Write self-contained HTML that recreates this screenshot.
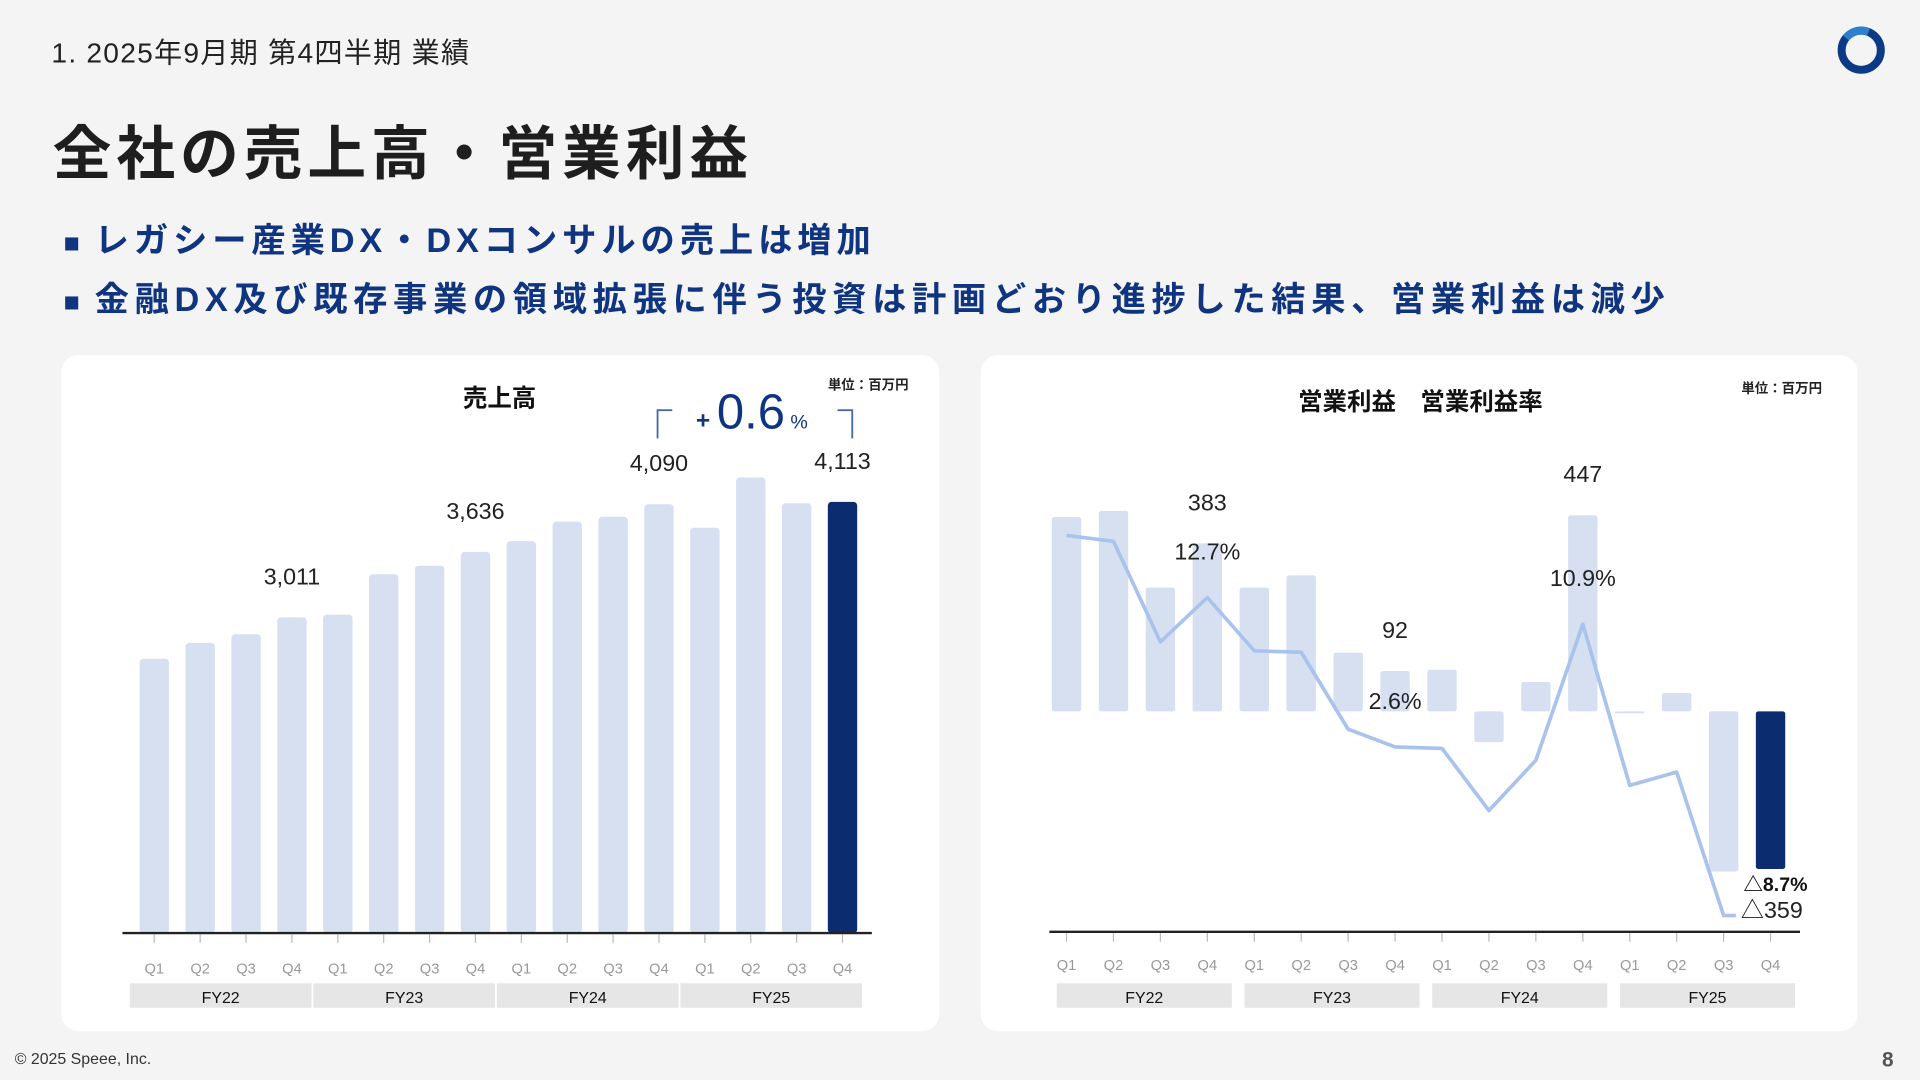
<!DOCTYPE html>
<html><head><meta charset="utf-8">
<style>
html,body{margin:0;padding:0;width:1920px;height:1080px;overflow:hidden;background:#f4f4f4;}
#root{position:absolute;left:0;top:0;width:1568px;height:882px;transform:scale(1.22449);transform-origin:0 0;background:#f4f4f4;font-family:"Liberation Sans","Noto Sans CJK JP",sans-serif;}
.t{position:absolute;white-space:nowrap;}
.card{position:absolute;background:#fff;border-radius:14px;}
</style></head><body>
<div id="root">
<div class="t" style="left:42px;top:24px;font-size:23px;color:#222;letter-spacing:1px;">1. 2025年9月期 第4四半期 業績</div>
<div class="t" style="left:43px;top:86px;font-size:48px;font-weight:bold;color:#1e1e1e;letter-spacing:4px;">全社の売上高・営業利益</div>
<div class="t" style="left:52px;top:175px;font-size:28px;font-weight:bold;color:#0f3480;letter-spacing:4px;"><span style="font-size:22px;margin-right:12px;letter-spacing:0">■</span>レガシー産業DX・DXコンサルの売上は増加</div>
<div class="t" style="left:52px;top:223px;font-size:28px;font-weight:bold;color:#0f3480;letter-spacing:4.6px;"><span style="font-size:22px;margin-right:12px;letter-spacing:0">■</span>金融DX及び既存事業の領域拡張に伴う投資は計画どおり進捗した結果、営業利益は減少</div>
<svg style="position:absolute;left:1498px;top:20px" width="44" height="44"><circle cx="22" cy="21" r="16" fill="none" stroke="#0d3a86" stroke-width="6.5"/><circle cx="22" cy="21" r="16" fill="none" stroke="#2f7fd0" stroke-width="6.5" stroke-dasharray="20 80" transform="rotate(220 22 21)"/></svg>

<div class="card" style="left:50px;top:290px;width:717px;height:552px;"></div>
<div class="card" style="left:801px;top:290px;width:716px;height:552px;"></div>

<svg id="chart" style="position:absolute;left:0;top:0" width="1568" height="882" font-family="Liberation Sans, Noto Sans CJK JP, sans-serif"></svg>

<div class="t" style="left:12px;top:857px;font-size:13px;color:#333;">© 2025 Speee, Inc.</div>
<div class="t" style="left:1537px;top:856px;font-size:17px;font-weight:bold;color:#555;">8</div>
</div>
<script>
const quarters=["Q1","Q2","Q3","Q4","Q1","Q2","Q3","Q4","Q1","Q2","Q3","Q4","Q1","Q2","Q3","Q4"];
const fiscalYears=["FY22","FY23","FY24","FY25"];
const sales=[2616,2768,2850,3011,3037,3422,3504,3636,3738,3924,3971,4090,3866,4345,4100,4113];
const salesLabels=["","","","3,011","","","","3,636","","","","4,090","","","","4,113"];
const profit=[443,457,282,383,282,310,134,92,95,-70,67,447,-3,42,-365,-359];
const margin=[16.9,16.5,9.7,12.7,9.1,9.0,3.8,2.6,2.5,-1.7,1.7,10.9,0.0,0.9,-8.8,-8.7];
const profitLabels=["","","","383","","","","92","","","","447","","","","△359"];
const marginLabels=["","","","12.7%","","","","2.6%","","","","10.9%","","","","△8.7%"];

const svg=document.getElementById('chart');
const NS='http://www.w3.org/2000/svg';
function mk(tag,attrs,parent){const e=document.createElementNS(NS,tag);for(const k in attrs)e.setAttribute(k,attrs[k]);(parent||svg).appendChild(e);return e;}
function txt(x,y,s,size,fill,weight,anchor){const e=mk('text',{x:x,y:y,'font-size':size,fill:fill,'font-weight':weight||'normal','text-anchor':anchor||'middle'});e.textContent=s;return e;}

// ---- Sales chart ----
const sx=i=>126+i*37.47;
const sy=v=>762-v/11.68;
const L=mk('g',{});


sales.forEach((v,i)=>{
  const r=mk('rect',{x:sx(i)-12,y:sy(v),width:24,height:762-sy(v),rx:3,fill:i===15?'#0b2c6e':'#d6e0f1'},L);
  
  
  if(salesLabels[i]){const t=txt(sx(i),sy(v)-27,salesLabels[i],19,'#222','normal','middle');L.appendChild(t);
    
    }
});
const la=mk('line',{x1:100,y1:762,x2:712,y2:762,stroke:'#222','stroke-width':2},L);


quarters.forEach((q,i)=>{
  mk('line',{x1:sx(i),y1:763,x2:sx(i),y2:770,stroke:'#bbb','stroke-width':1},L);
  const t=txt(sx(i),795,q,12,'#999');L.appendChild(t);
  
  
});
fiscalYears.forEach((f,k)=>{
  const x0=sx(k*4)-20,x1=sx(k*4+3)+16;
  mk('rect',{x:x0,y:803,width:x1-x0,height:20,fill:'#e6e6e6'},L);
  const t=txt((x0+x1)/2,819,f,13,'#111');L.appendChild(t);
  
  
});
let tt=txt(408,332,'売上高',20,'#111','bold');
tt=txt(742,318,'単位：百万円',11,'#222','bold','end');
mk('path',{d:'M537,358 V335 H549',fill:'none',stroke:'#4a6aa8','stroke-width':1.5});
mk('path',{d:'M684,335 H696 V358',fill:'none',stroke:'#4a6aa8','stroke-width':1.5});
const g=mk('text',{x:614,y:350,'text-anchor':'middle',fill:'#0f3480'});


g.innerHTML='<tspan font-size="20" font-weight="bold">+ </tspan><tspan font-size="40">0.6</tspan><tspan font-size="16"> %</tspan>';

// ---- Profit chart ----
const px=i=>871+i*38.33;
const py=v=>581-v/2.79;
const my=m=>641.4-m*12.08;
const R=mk('g',{});


profit.forEach((v,i)=>{
  const y=Math.min(py(v),581),h=Math.max(Math.abs(py(v)-581),1.5);
  const r=mk('rect',{x:px(i)-12,y:y,width:24,height:h,rx:2,fill:i===15?'#0b2c6e':'#d6e0f1'},R);
  
  
});
const pts=margin.slice(0,15).map((m,i)=>px(i)+','+my(m)).join(' ')+' '+(px(14)+10)+','+my(margin[14]);
const pl=mk('polyline',{points:pts,fill:'none',stroke:'#a9c3ec','stroke-width':3,'stroke-linejoin':'round'},R);


profit.forEach((v,i)=>{
  if(!profitLabels[i])return;
  let t;
  if(i===15){
    t=txt(px(i)+1,my(margin[i])+3,profitLabels[i],19,'#222','normal','middle');
    R.appendChild(t);
    const t2=txt(px(i)+4,my(margin[i])-19,marginLabels[i],16,'#111','bold','middle');R.appendChild(t2);
    
    
  } else {
    t=txt(px(i),py(v)-27,profitLabels[i],19,'#222','normal','middle');R.appendChild(t);
    const t2=txt(px(i),my(margin[i])-31,marginLabels[i],19,'#222','normal','middle');R.appendChild(t2);
    
    
  }
  
  
});
const ra=mk('line',{x1:857,y1:761,x2:1470,y2:761,stroke:'#222','stroke-width':2},R);


quarters.forEach((q,i)=>{
  mk('line',{x1:px(i),y1:762,x2:px(i),y2:769,stroke:'#bbb','stroke-width':1},R);
  const t=txt(px(i),792,q,12,'#999');R.appendChild(t);
  
  
});
fiscalYears.forEach((f,k)=>{
  const x0=px(k*4)-8,x1=px(k*4+3)+20;
  mk('rect',{x:x0,y:803,width:x1-x0,height:20,fill:'#e6e6e6'},R);
  const t=txt((x0+x1)/2,819,f,13,'#111');R.appendChild(t);
  
  
});
tt=txt(1160,335,'営業利益　営業利益率',20,'#111','bold');
tt=txt(1488,321,'単位：百万円',11,'#222','bold','end');
</script>
</body></html>
